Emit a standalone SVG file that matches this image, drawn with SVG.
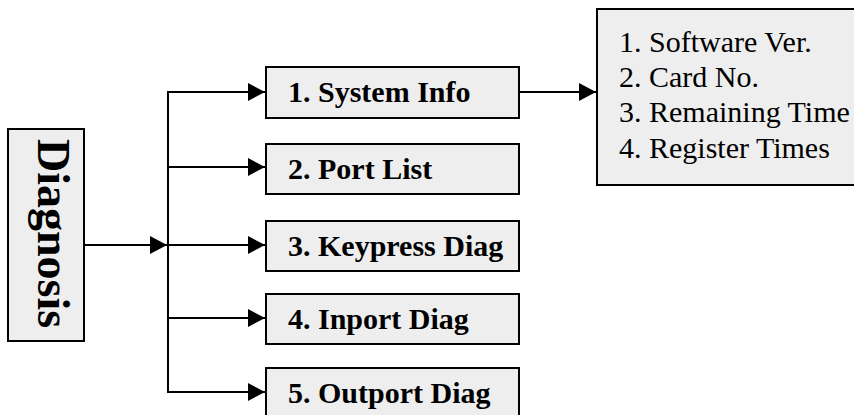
<svg xmlns="http://www.w3.org/2000/svg" width="854" height="415" viewBox="0 0 854 415">
<style>
.box{fill:#eeeeee;stroke:#000;stroke-width:2}
.lbl{font-family:"Liberation Serif","Times New Roman",serif;font-weight:bold;font-size:30px;fill:#000}
.lst{font-family:"Liberation Serif","Times New Roman",serif;font-size:30px;fill:#000}
.ln{stroke:#000;stroke-width:2;fill:none}
</style>
<defs>
<marker id="ah" markerUnits="userSpaceOnUse" viewBox="0 0 17 18" refX="17" refY="9" markerWidth="17" markerHeight="18" orient="auto">
<path d="M0,0 L17,9 L0,18 Z" fill="#000"/>
</marker>
</defs>
<g id="connectors">
<line class="ln" x1="84" y1="245" x2="167" y2="245" marker-end="url(#ah)"/>
<line class="ln" x1="168" y1="91" x2="168" y2="393"/>
<line class="ln" x1="167" y1="92" x2="265" y2="92" marker-end="url(#ah)"/>
<line class="ln" x1="167" y1="167" x2="265" y2="167" marker-end="url(#ah)"/>
<line class="ln" x1="167" y1="245" x2="265" y2="245" marker-end="url(#ah)"/>
<line class="ln" x1="167" y1="318" x2="265" y2="318" marker-end="url(#ah)"/>
<line class="ln" x1="167" y1="392" x2="265" y2="392" marker-end="url(#ah)"/>
<line class="ln" x1="519" y1="92" x2="596" y2="92" marker-end="url(#ah)"/>
</g>
<g id="diagnosis">
<rect class="box" x="8" y="129" width="76" height="212"/>
<text class="lbl" style="font-size:46px" text-anchor="middle" transform="translate(38,233.5) rotate(90)">Diagnosis</text>
</g>
<g id="system-info">
<rect class="box" x="266" y="67" width="253" height="51"/>
<text class="lbl" x="288" y="102">1. System Info</text>
</g>
<g id="port-list">
<rect class="box" x="266" y="144" width="253" height="50"/>
<text class="lbl" x="288" y="179">2. Port List</text>
</g>
<g id="keypress-diag">
<rect class="box" x="266" y="221" width="253" height="50"/>
<text class="lbl" x="288" y="256">3. Keypress Diag</text>
</g>
<g id="inport-diag">
<rect class="box" x="266" y="294" width="253" height="50"/>
<text class="lbl" x="288" y="329">4. Inport Diag</text>
</g>
<g id="outport-diag">
<rect class="box" x="266" y="368" width="253" height="52"/>
<text class="lbl" x="288" y="403">5. Outport Diag</text>
</g>
<g id="info-list">
<rect class="box" x="597" y="9" width="270" height="176"/>
<text class="lst" x="619" y="52">1. Software Ver.</text>
<text class="lst" x="619" y="87">2. Card No.</text>
<text class="lst" x="619" y="122">3. Remaining Time</text>
<text class="lst" x="619" y="158">4. Register Times</text>
</g>
</svg>
